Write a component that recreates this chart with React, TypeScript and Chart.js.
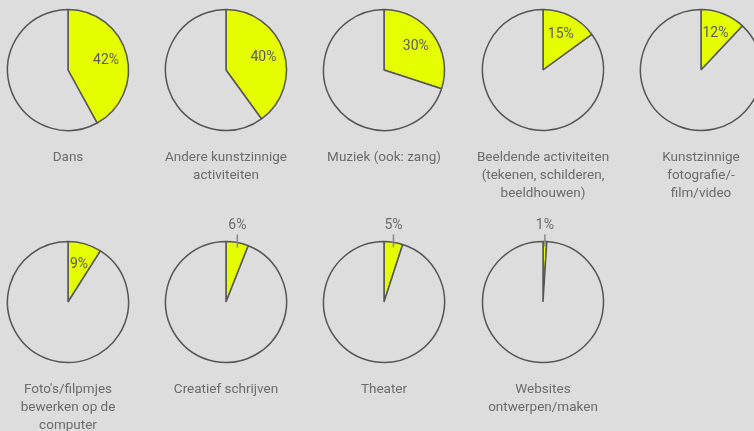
import React, { useEffect, useRef } from "react";
import { Chart, registerables } from "chart.js";

Chart.register(...registerables);

const categories: string[][] = [
  ["Dans"],
  ["Andere kunstzinnige", "activiteiten"],
  ["Muziek (ook: zang)"],
  ["Beeldende activiteiten", "(tekenen, schilderen,", "beeldhouwen)"],
  ["Kunstzinnige", "fotografie/-", "film/video"],
  ["Foto's/filpmjes", "bewerken op de", "computer"],
  ["Creatief schrijven"],
  ["Theater"],
  ["Websites", "ontwerpen/maken"],
];
const percentages: number[] = [42, 40, 30, 15, 12, 9, 6, 5, 1];

const BG = "#dddddd";
const YELLOW = "#e6ff00";
const BORDER = "#555555";
const TEXT = "#6b6b6b";
const FONT = "13.5px Roboto, 'Noto Sans', sans-serif";
const PCT_FONT = "14px Roboto, 'Noto Sans', sans-serif";

const CANVAS_W = 158;
const CANVAS_H = 250;
const CENTER_Y = 100;

const labelPlugin = {
  id: "pieLabels",
  afterDatasetsDraw(chart: any) {
    const ctx = chart.ctx as CanvasRenderingContext2D;
    const meta = chart.getDatasetMeta(0);
    const arc = meta.data[0];
    const p = arc.getProps(["x", "y", "startAngle", "endAngle", "outerRadius"], true);
    const value = chart.data.datasets[0].data[0] as number;
    const title = (chart.options.plugins as any).pieLabels.title as string[];
    const mid = (p.startAngle + p.endAngle) / 2;
    const r = p.outerRadius;
    ctx.save();
    ctx.font = PCT_FONT;
    ctx.textAlign = "center";
    ctx.textBaseline = "middle";
    if (value >= 8) {
      const d = r * 0.65;
      ctx.fillStyle = "#5a5a5a";
      ctx.fillText(value + "%", p.x + Math.cos(mid) * d, p.y + Math.sin(mid) * d);
    } else {
      const ax = p.x + Math.cos(mid) * r;
      const ay = p.y + Math.sin(mid) * r;
      ctx.strokeStyle = "#888888";
      ctx.lineWidth = 1.5;
      ctx.beginPath();
      ctx.moveTo(ax, ay + 5);
      ctx.lineTo(ax, p.y - r - 7);
      ctx.stroke();
      ctx.fillStyle = TEXT;
      ctx.fillText(value + "%", ax, p.y - r - 16);
    }
    ctx.font = FONT;
    ctx.fillStyle = TEXT;
    title.forEach((line, i) => {
      ctx.fillText(line, p.x, p.y + 88 + i * 17.7);
    });
    ctx.restore();
  },
};

function Pie({ index }: { index: number }) {
  const ref = useRef<HTMLCanvasElement>(null);
  useEffect(() => {
    const value = percentages[index];
    const chart = new Chart(ref.current!, {
      type: "pie",
      data: {
        labels: ["ja", "nee"],
        datasets: [
          {
            data: [value, 100 - value],
            backgroundColor: [YELLOW, BG],
            borderColor: BORDER,
            borderWidth: 1.5,
            radius: 60.5,
          } as any,
        ],
      },
      options: {
        responsive: false,
        animation: false,
        layout: { padding: { top: CENTER_Y - 70, bottom: CANVAS_H - CENTER_Y - 70, left: 0, right: 0 } },
        plugins: {
          legend: { display: false },
          tooltip: { enabled: false },
          pieLabels: { title: categories[index] },
        } as any,
      },
      plugins: [labelPlugin],
    });
    return () => chart.destroy();
  }, [index]);
  const col = index % 5;
  const row = Math.floor(index / 5);
  const cx = Math.round(67.6 + col * 158.4);
  const cy = row === 0 ? 70 : 302;
  return (
    <canvas
      ref={ref}
      width={CANVAS_W}
      height={CANVAS_H}
      style={{ position: "absolute", left: cx - CANVAS_W / 2, top: cy - CENTER_Y, width: CANVAS_W, height: CANVAS_H }}
    />
  );
}

export default function App() {
  useEffect(() => {
    document.body.style.margin = "0";
    document.body.style.background = BG;
  }, []);
  return (
    <div style={{ position: "relative", width: 754, height: 431, overflow: "hidden", background: BG }}>
      {percentages.map((_, i) => (
        <Pie key={i} index={i} />
      ))}
    </div>
  );
}
